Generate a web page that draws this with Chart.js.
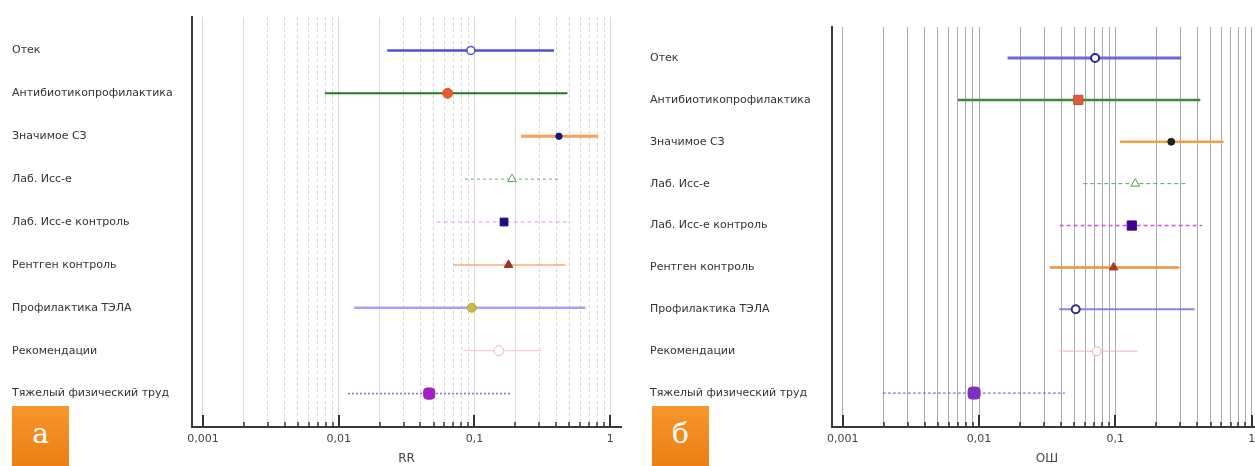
<!DOCTYPE html>
<html><head><meta charset="utf-8">
<script src="https://cdn.jsdelivr.net/npm/chart.js@4/dist/chart.umd.min.js"></script>
<style>
html,body{margin:0;padding:0;background:#fff;overflow:hidden}
#wrap{position:relative;width:1255px;height:466px;overflow:hidden;background:#fff}
canvas{position:absolute;top:0}
.badge{position:absolute;top:406px;width:57px;height:60px;background:linear-gradient(#f7962c,#ec7f14);color:#fff;font-family:"DejaVu Serif","Liberation Serif",serif;font-size:28px;text-align:center;line-height:56px}
</style></head>
<body><div id="wrap">
<canvas id="cA" width="640" height="466" style="left:0;width:640px;height:466px"></canvas>
<canvas id="cB" width="640" height="466" style="left:640px;width:640px;height:466px"></canvas>
<div class="badge" style="left:12px">а</div>
<div class="badge" style="left:652px">б</div>
</div>
<script>
// ---- data ----
const categories = ["Отек","Антибиотикопрофилактика","Значимое СЗ","Лаб. Исс-е","Лаб. Исс-е контроль","Рентген контроль","Профилактика ТЭЛА","Рекомендации","Тяжелый физический труд"];
const xTickValues = [0.001, 0.01, 0.1, 1];
const xTickLabels = ["0,001", "0,01", "0,1", "1"];
const axisTitleA = "RR";
const axisTitleB = "ОШ";
const rrEstimate = [0.094, 0.0634, 0.419, 0.189, 0.165, 0.178, 0.0955, 0.151, 0.0464];
const rrLower    = [0.0228, 0.0079, 0.22, 0.085, 0.0526, 0.0699, 0.013, 0.083, 0.0117];
const rrUpper    = [0.385, 0.483, 0.815, 0.414, 0.508, 0.467, 0.656, 0.31, 0.186];
const orEstimate = [0.071, 0.0535, 0.257, 0.14, 0.132, 0.097, 0.0512, 0.073, 0.0092];
const orLower    = [0.0162, 0.0070, 0.108, 0.0582, 0.039, 0.033, 0.0388, 0.039, 0.00197];
const orUpper    = [0.304, 0.42, 0.622, 0.326, 0.432, 0.295, 0.381, 0.146, 0.0427];

// ---- styles ----
const lineStylesA = [
  {color:'#4f4fd0', w:2.5},
  {color:'#1f7a1f', w:2},
  {color:'#f5a05a', w:3},
  {color:'#6aaa6a', w:1, dash:[3,3]},
  {color:'#dc96ef', w:1, dash:[4,3]},
  {color:'#f7ad80', w:1.5},
  {color:'#a3a3f2', w:2.5},
  {color:'#f6c6c6', w:1},
  {color:'#8a6ad4', w:1.5, dash:[2,2]}
];
const markerStylesA = [
  {style:'circle', r:4, fill:'#ffffff', stroke:'#4f4fd0', bw:1.5},
  {style:'circle', r:5, fill:'#ec5a2c', stroke:'#e8582a', bw:1},
  {style:'circle', r:3.2, fill:'#16168a', stroke:'#16168a', bw:1},
  {style:'triangle', r:5, fill:'#ffffff', stroke:'#5aa05a', bw:1},
  {style:'rect', r:5.5, fill:'#1c0c80', stroke:'#1c0c80', bw:1},
  {style:'triangle', r:5, fill:'#a03020', stroke:'#a03020', bw:1},
  {style:'circle', r:4.5, fill:'#c9b84a', stroke:'#b8a840', bw:1},
  {style:'circle', r:5, fill:'#ffffff', stroke:'#f2b6b6', bw:1},
  {style:'rectRounded', r:6.5, fill:'#a321c2', stroke:'#a321c2', bw:1}
];
const lineStylesB = [
  {color:'#6a6ad2', w:3},
  {color:'#3a8a3a', w:2.5},
  {color:'#f5a040', w:2.5},
  {color:'#5aa55a', w:1, dash:[4,3]},
  {color:'#d452e2', w:1.5, dash:[4,3]},
  {color:'#f09040', w:2.5},
  {color:'#8484e2', w:2},
  {color:'#f4b4b4', w:1},
  {color:'#5c5cc8', w:1, dash:[3,2]}
];
const markerStylesB = [
  {style:'circle', r:4, fill:'#ffffff', stroke:'#2a2a88', bw:2},
  {style:'rect', r:6.5, fill:'#e05a3a', stroke:'#c84a30', bw:1},
  {style:'circle', r:3.5, fill:'#222222', stroke:'#222222', bw:1},
  {style:'triangle', r:5, fill:'#ffffff', stroke:'#4a9a4a', bw:1},
  {style:'rect', r:6.5, fill:'#40008a', stroke:'#40008a', bw:1},
  {style:'triangle', r:5, fill:'#a04020', stroke:'#a04020', bw:1},
  {style:'circle', r:4, fill:'#ffffff', stroke:'#303080', bw:2},
  {style:'circle', r:4.5, fill:'#ffffff', stroke:'#f0a8a8', bw:1},
  {style:'rectRounded', r:7, fill:'#8030c0', stroke:'#8030c0', bw:1}
];

function majorIndex(v){
  for (let j=0;j<xTickValues.length;j++) if (Math.abs(v/xTickValues[j]-1) < 1e-6) return j;
  return -1;
}
function mantissa(v){ return Math.round(v/Math.pow(10, Math.floor(Math.log10(v)+1e-9))); }

const inwardTicks = {
  id:'inwardTicks',
  afterDraw(chart){
    const s = chart.scales.x, ctx = chart.ctx, y = s.top;
    ctx.save();
    ctx.strokeStyle = '#333';
    s.ticks.forEach(t=>{
      const px = Math.round(s.getPixelForValue(t.value));
      const major = majorIndex(t.value) >= 0;
      ctx.lineWidth = major ? 2 : 1.5;
      ctx.beginPath();
      ctx.moveTo(px, y);
      ctx.lineTo(px, y - (major ? 12 : 5));
      ctx.stroke();
    });
    ctx.restore();
  }
};

function buildChart(id, cfg){
  const {est, lo, hi, lineStyles, markerStyles, title, yMin, yMax, pad, gridColor, gridDash, xMin, xMax, labelLeft} = cfg;
  const datasets = [{
    type:'line', order:0, showLine:false,
    data: est.map((v,i)=>({x:v, y:i})),
    pointStyle: markerStyles.map(m=>m.style),
    pointRadius: markerStyles.map(m=>m.r),
    pointBackgroundColor: markerStyles.map(m=>m.fill),
    pointBorderColor: markerStyles.map(m=>m.stroke),
    pointBorderWidth: markerStyles.map(m=>m.bw)
  }];
  lo.forEach((l,i)=>{
    const s = lineStyles[i];
    datasets.push({type:'line', order:1, data:[{x:l, y:i},{x:hi[i], y:i}],
      borderColor:s.color, borderWidth:s.w, borderDash:s.dash||[], pointRadius:0, fill:false, tension:0, borderCapStyle:'butt'});
  });
  return new Chart(document.getElementById(id), {
    type:'line',
    data:{datasets},
    plugins:[inwardTicks],
    options:{
      responsive:false, animation:false, devicePixelRatio:1,
      layout:{padding:pad},
      plugins:{legend:{display:false}, tooltip:{enabled:false}},
      scales:{
        x:{
          type:'logarithmic', position:'bottom', min:xMin, max:xMax,
          afterBuildTicks(scale){
            const t=[];
            for (let e=-3;e<=0;e++) for (let m=1;m<=9;m++){
              const v = m*Math.pow(10,e);
              if (v>=xTickValues[0]*0.999 && v<=xMax) t.push({value: parseFloat(v.toPrecision(6))});
            }
            scale.ticks = t;
          },
          afterFit(scale){ scale.height = 39; },
          ticks:{autoSkip:false, maxRotation:0, padding:6, color:'#444',
            font:{family:'"DejaVu Sans", "Liberation Sans", sans-serif', size:11},
            callback(v){ const j = majorIndex(v); return j>=0 ? xTickLabels[j] : ''; }},
          grid:{drawTicks:false, color:(c)=> gridColor(c.tick ? c.tick.value : 1), lineWidth:1},
          border:{display:true, color:'#3a3a3a', width:2, dash:(c)=> c.tick ? gridDash(c.tick.value) : []},
          title:{display:true, text:title, color:'#444', padding:{top:0,bottom:0},
            font:{family:'"DejaVu Sans", "Liberation Sans", sans-serif', size:12}}
        },
        y:{
          type:'linear', position:'left', reverse:true, min:yMin, max:yMax,
          afterBuildTicks(scale){ scale.ticks = categories.map((c,i)=>({value:i})); },
          afterFit(scale){ scale.width = labelLeft; },
          ticks:{autoSkip:false, crossAlign:'far', color:'#333',
            font:{family:'"DejaVu Sans", "Liberation Sans", sans-serif', size:11},
            callback(v){ return categories[v]; }},
          grid:{display:false, drawTicks:false},
          border:{display:true, color:'#3a3a3a', width:2}
        }
      }
    }
  });
}

buildChart('cA', {
  est:rrEstimate, lo:rrLower, hi:rrUpper, lineStyles:lineStylesA, markerStyles:markerStylesA,
  title:axisTitleA, yMin:-0.78, yMax:8.78, pad:{left:12, right:19, top:17, bottom:0},
  xMin:0.00083, xMax:1.2, labelLeft:180,
  gridColor:(v)=> { const m = mantissa(v); return (m===1||m===2) ? '#dcdcdc' : '#d4d4d4'; },
  gridDash:(v)=> { const m = mantissa(v); return (m===1||m===2) ? [] : [3,3]; }
});
buildChart('cB', {
  est:orEstimate, lo:orLower, hi:orUpper, lineStyles:lineStylesB, markerStyles:markerStylesB,
  title:axisTitleB, yMin:-0.74, yMax:8.81, pad:{left:10, right:18, top:27, bottom:0},
  xMin:0.000835, xMax:1.19, labelLeft:182,
  gridColor:(v)=> '#a9a9b6',
  gridDash:(v)=> []
});
</script>
</body></html>
